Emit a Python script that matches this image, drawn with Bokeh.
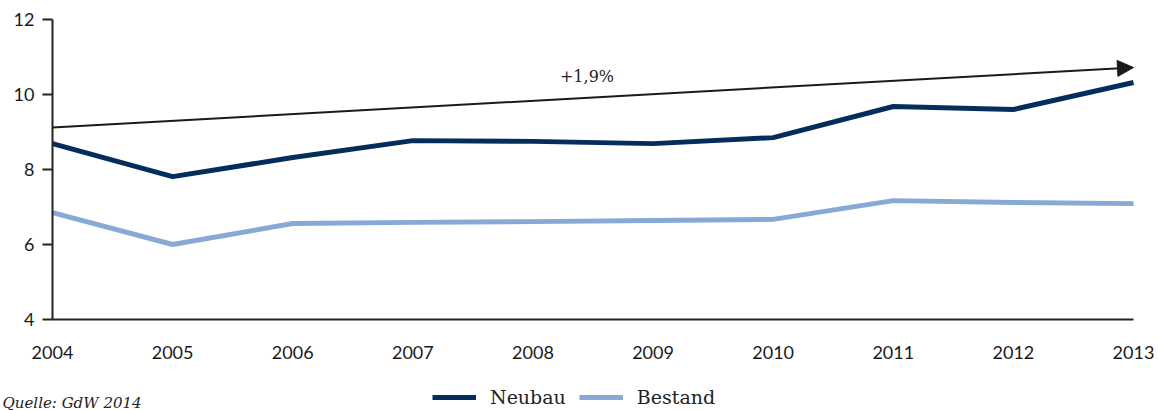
from bokeh.plotting import figure
from bokeh.models import Arrow, NormalHead, Label, Legend, LegendItem, FixedTicker
from bokeh.embed import file_html
from bokeh.resources import INLINE

years = [2004, 2005, 2006, 2007, 2008, 2009, 2010, 2011, 2012, 2013]
neubau = [8.69, 7.81, 8.32, 8.77, 8.75, 8.69, 8.85, 9.68, 9.60, 10.32]
bestand = [6.85, 6.00, 6.56, 6.59, 6.61, 6.64, 6.67, 7.17, 7.12, 7.09]
trend_start = (2004, 9.12)
trend_end = (2013, 10.72)
trend_label = "+1,9%"
y_ticks = [4, 6, 8, 10, 12]
source_text = "Quelle: GdW 2014"

W, H = 1158, 410
px_per_year = (1133 - 52) / 9.0
px_per_unit = (319 - 19) / 8.0
x0 = 2004 - 52 / px_per_year
x1 = 2013 + (W - 1133) / px_per_year
y0 = 4 - (H - 319) / px_per_unit
y1 = 12 + 19 / px_per_unit

p = figure(width=W, height=H, output_backend="svg", toolbar_location=None,
           x_range=(x0, x1), y_range=(y0, y1),
           min_border=0)
p.outline_line_color = None
p.xgrid.visible = False
p.ygrid.visible = False
p.background_fill_color = "white"

axis_color = "#222222"
p.xaxis.ticker = FixedTicker(ticks=years)
p.yaxis.ticker = FixedTicker(ticks=y_ticks)
p.xaxis.fixed_location = 4
p.yaxis.fixed_location = 2004
p.xaxis.bounds = (2004, 2013)
p.yaxis.bounds = (4, 12)
for ax in (p.xaxis[0], p.yaxis[0]):
    ax.axis_line_color = axis_color
    ax.axis_line_width = 2
    ax.major_label_text_font = "Lato"
    ax.major_label_text_font_size = "18px"
    ax.major_label_text_color = "#1a1a1a"
    ax.minor_tick_line_color = None
p.xaxis.major_tick_line_color = None
p.xaxis.major_label_standoff = 20
p.yaxis.major_tick_line_color = axis_color
p.yaxis.major_tick_line_width = 2
p.yaxis.major_tick_in = 0
p.yaxis.major_tick_out = 10
p.yaxis.major_label_standoff = 8

r1 = p.line(years, neubau, line_color="#052d5c", line_width=5)
r2 = p.line(years, bestand, line_color="#87a9d6", line_width=5)

p.add_layout(Arrow(end=NormalHead(size=16, fill_color="#1a1a1a", line_color="#1a1a1a"),
                   x_start=trend_start[0], y_start=trend_start[1],
                   x_end=trend_end[0], y_end=trend_end[1],
                   line_color="#1a1a1a", line_width=2))
p.add_layout(Label(x=2008.45, y=10.48, text=trend_label, text_align="center",
                   text_baseline="middle", text_font="DejaVu Serif",
                   text_font_size="16px", text_color="#222222"))
p.add_layout(Label(x=x0 + 2 / px_per_year, y=y1 - 402 / px_per_unit, text=source_text,
                   text_align="left", text_baseline="middle", text_font="DejaVu Serif",
                   text_font_style="italic", text_font_size="15px", text_color="#222222"))

legend = Legend(items=[LegendItem(label="Neubau", renderers=[r1]),
                       LegendItem(label="Bestand", renderers=[r2])],
                orientation="horizontal", location=(432, 2),
                glyph_width=44, glyph_height=20, label_height=20,
                label_standoff=14, spacing=13, padding=0, margin=0,
                border_line_color=None, background_fill_alpha=0,
                label_text_font="DejaVu Serif", label_text_font_size="19px",
                label_text_color="#222222")
p.add_layout(legend, "center")

open("out.html", "w").write(file_html(p, INLINE))
